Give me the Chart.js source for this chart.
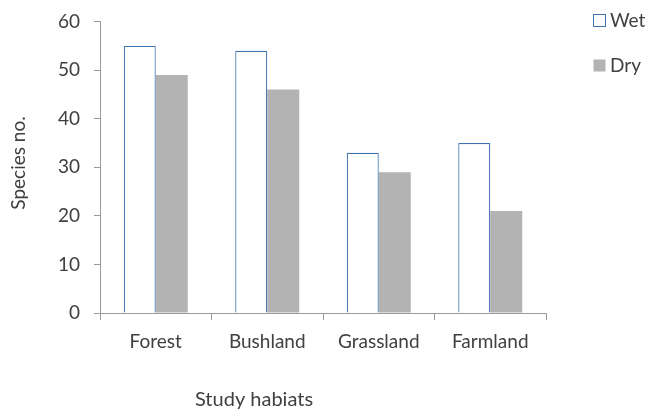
<!DOCTYPE html>
<html>
<head>
<meta charset="utf-8">
<script src="https://cdn.jsdelivr.net/npm/chart.js@4/dist/chart.umd.min.js"></script>
<style>
  html, body { margin: 0; padding: 0; background: #fff; }
  #wrap { width: 649px; height: 414px; }
</style>
</head>
<body>
<div id="wrap"><canvas id="chart" width="649" height="414"></canvas></div>
<script>
const categories = ['Forest', 'Bushland', 'Grassland', 'Farmland'];
const wetValues = [55, 54, 33, 35];
const dryValues = [49, 46, 29, 21];
const seriesNames = ['Wet', 'Dry'];
const yTickValues = [0, 10, 20, 30, 40, 50, 60];

const FONT = 'Lato, "Open Sans", sans-serif';
const TEXT = '#404040';
const AXIS = '#9a9a9a';

// legend + axis titles drawn after the chart, placed like the original
const extras = {
    id: 'extras',
    afterDraw(chart) {
        const ctx = chart.ctx;
        ctx.save();
        ctx.fillStyle = TEXT;

        // y title
        ctx.save();
        ctx.font = '19px ' + FONT;
        ctx.translate(19, 163);
        ctx.rotate(-Math.PI / 2);
        ctx.textAlign = 'center';
        ctx.textBaseline = 'middle';
        ctx.fillText('Species no.', 0, 0);
        ctx.restore();

        // x title
        ctx.font = '20px ' + FONT;
        ctx.textAlign = 'center';
        ctx.textBaseline = 'middle';
        ctx.fillText('Study habiats', 254, 400);

        // legend
        ctx.font = '19px ' + FONT;
        const rows = [21, 66];
        chart.data.datasets.forEach((ds, i) => {
            const y = rows[i];
            ctx.fillStyle = ds.backgroundColor;
            ctx.fillRect(593.5, y - 6.5, 12, 12);
            if (ds.borderWidth) {
                ctx.strokeStyle = ds.borderColor;
                ctx.lineWidth = 1;
                ctx.strokeRect(593.5, y - 6.5, 12, 12);
            }
            ctx.fillStyle = TEXT;
            ctx.textAlign = 'left';
            ctx.fillText(ds.label, 610, y);
        });
        ctx.restore();
    }
};

new Chart(document.getElementById('chart'), {
    type: 'bar',
    data: {
        labels: categories,
        datasets: [
            {
                label: seriesNames[0],
                data: wetValues,
                backgroundColor: '#ffffff',
                borderColor: '#3f73b0',
                borderWidth: 1.2,
                borderSkipped: 'bottom'
            },
            {
                label: seriesNames[1],
                data: dryValues,
                backgroundColor: '#b3b3b3',
                borderWidth: 0
            }
        ]
    },
    options: {
        responsive: false,
        animation: false,
        layout: { padding: { top: 20, right: 103, left: 0, bottom: 0 } },
        datasets: {
            bar: { categoryPercentage: 0.574, barPercentage: 1.0 }
        },
        plugins: {
            legend: { display: false },
            tooltip: { enabled: false }
        },
        scales: {
            x: {
                grid: {
                    offset: true,
                    drawOnChartArea: false,
                    drawTicks: true,
                    tickLength: 7,
                    color: AXIS
                },
                border: { color: AXIS, width: 1 },
                ticks: {
                    color: TEXT,
                    font: { family: FONT, size: 19 },
                    padding: 10,
                    maxRotation: 0
                },
                afterFit(scale) { scale.height = 101; }
            },
            y: {
                min: 0,
                max: 60,
                afterBuildTicks(scale) {
                    scale.ticks = yTickValues.map(v => ({ value: v }));
                },
                grid: {
                    drawOnChartArea: false,
                    drawTicks: true,
                    tickLength: 6,
                    color: AXIS
                },
                border: { color: AXIS, width: 1 },
                ticks: {
                    color: TEXT,
                    font: { family: FONT, size: 19, lineHeight: 0.8 },
                    padding: 14
                },
                afterFit(scale) { scale.width = 100; }
            }
        }
    },
    plugins: [extras]
});
</script>
</body>
</html>
